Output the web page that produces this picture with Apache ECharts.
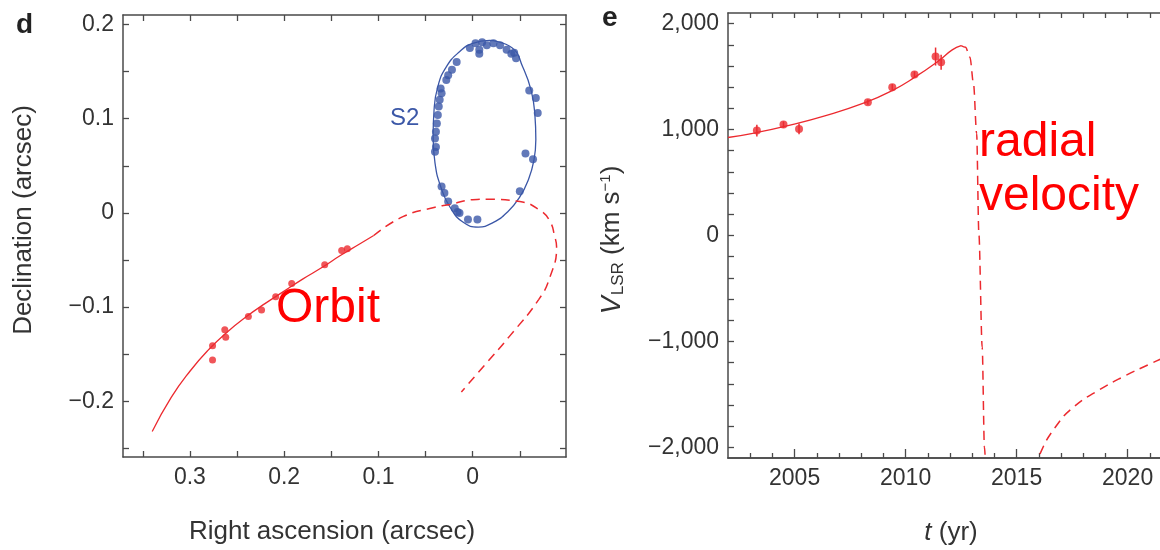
<!DOCTYPE html>
<html>
<head>
<meta charset="utf-8">
<script src="https://cdn.jsdelivr.net/npm/echarts@6/dist/echarts.min.js"></script>
<style>
  html, body { margin: 0; padding: 0; background: #fff; }
  #chart { width: 1160px; height: 550px; }
</style>
</head>
<body>
<div id="chart"></div>
<script>
// ---- panel d : orbit on the sky (arcsec) ----
var orbitFitRA  = [0.340, 0.320, 0.300, 0.280, 0.260, 0.240, 0.220, 0.200, 0.180, 0.160, 0.140, 0.120, 0.105];
var orbitFitDec = [-0.232, -0.196, -0.168, -0.145, -0.126, -0.110, -0.096, -0.083, -0.070, -0.058, -0.045, -0.033, -0.024];
var orbitPredRA  = [0.105, 0.074, 0.040, 0.024, 0.000, -0.015, -0.050, -0.071, -0.082, -0.087, -0.089, -0.082, -0.070, -0.039, -0.014, 0.012];
var orbitPredDec = [-0.024, -0.004, 0.006, 0.009, 0.014, 0.0145, 0.012, 0.003, -0.009, -0.025, -0.036, -0.068, -0.092, -0.131, -0.160, -0.190];
var g2ObsRA  = [0.276, 0.276, 0.263, 0.262, 0.238, 0.224, 0.209, 0.192, 0.157, 0.139, 0.133];
var g2ObsDec = [-0.156, -0.141, -0.124, -0.132, -0.110, -0.103, -0.089, -0.075, -0.055, -0.040, -0.038];

var s2OrbitRA  = [-0.018, -0.042, -0.053, -0.062, -0.066, -0.067, -0.065, -0.059, -0.050, -0.037, -0.022, -0.006, 0.010, 0.024, 0.034, 0.040, 0.042, 0.041, 0.037, 0.028, 0.014, 0.000, -0.018];
var s2OrbitDec = [0.183, 0.175, 0.155, 0.130, 0.104, 0.078, 0.056, 0.035, 0.017, 0.001, -0.010, -0.015, -0.010, 0.006, 0.028, 0.053, 0.081, 0.109, 0.134, 0.155, 0.171, 0.180, 0.183];
var s2ObsRA  = [0.003, -0.007, -0.015, -0.022, -0.029, -0.036, -0.041, -0.046, -0.007, 0.017, 0.026, 0.028, 0.033, 0.035, 0.036, 0.038, 0.039, 0.040, 0.039, 0.040,
                -0.060, -0.067, -0.069, -0.056, -0.064, -0.050, 0.033, 0.030, 0.026, 0.019, 0.016, 0.014, 0.005, -0.005,
                -0.010, -0.003, 0.034, 0.037, -0.044, 0.022];
var s2ObsDec = [0.175, 0.173, 0.178, 0.180, 0.178, 0.173, 0.169, 0.164, 0.169, 0.160, 0.146, 0.141, 0.127, 0.120, 0.113, 0.095, 0.086, 0.079, 0.070, 0.065,
                0.130, 0.122, 0.106, 0.063, 0.057, 0.023, 0.028, 0.021, 0.012, 0.005, 0.001, 0.000, -0.007, -0.007,
                0.181, 0.180, 0.132, 0.104, 0.170, 0.152];

var raTicks   = [-0.05, 0, 0.05, 0.1, 0.15, 0.2, 0.25, 0.3, 0.35];
var raLabels  = [0, 0.1, 0.2, 0.3];
var decTicks  = [-0.25, -0.2, -0.15, -0.1, -0.05, 0, 0.05, 0.1, 0.15, 0.2];
var decLabels = [-0.2, -0.1, 0, 0.1, 0.2];

// ---- panel e : radial velocity (km/s) ----
var velFitYear = [2002.0, 2003.3, 2004.6, 2006.4, 2008.2, 2009.4, 2010.4, 2011.5, 2012.1, 2012.5];
var velFitKms  = [925, 972, 1032, 1132, 1256, 1368, 1492, 1651, 1752, 1792];
var velPredYear1 = [2012.5, 2012.7, 2012.9, 2013.06, 2013.2, 2013.3, 2013.45, 2013.55, 2013.62];
var velPredKms1  = [1792, 1777, 1682, 1431, 962, 19, -1054, -1997, -2250];
var velPredYear2 = [2015.9, 2016.09, 2016.75, 2017.56, 2018.71, 2019.86, 2021.0, 2021.45, 2022.4];
var velPredKms2  = [-2200, -2044, -1808, -1620, -1459, -1327, -1213, -1170, -1085];
var obsYear = [2003.3, 2004.5, 2005.2, 2008.3, 2009.4, 2010.4, 2011.35, 2011.6];
var obsVel  = [990, 1047, 1006, 1258, 1399, 1519, 1689, 1635];
var obsErr  = [55, 30, 50, 25, 30, 30, 85, 70];

var yearMinorTicks = [2003, 2004, 2006, 2007, 2008, 2009, 2011, 2012, 2013, 2014, 2016, 2017, 2018, 2019, 2021, 2022];
var yearLabels = [2005, 2010, 2015, 2020];
var velTicks = [];
for (var v = -2000; v <= 2000; v += 200) velTicks.push(v);
var velLabels = [-2000, -1000, 0, 1000, 2000];

var FONT = 'Liberation Sans, Arial, Helvetica, sans-serif';
var RED = '#ec2a2f';
var BLUE = '#3b57a7';
var AXIS = '#4a4a4a';
var TXT = '#333333';

function zip(a, b) {
  return a.map(function (x, i) { return [x, b[i]]; });
}
function fmtArc(v) {
  var r = Math.round(v * 10) / 10;
  if (r === 0) return '0';
  return (r < 0 ? '\u2212' : '') + Math.abs(r).toFixed(1);
}
function fmtVel(v) {
  if (v === 0) return '0';
  var s = Math.abs(v).toString().replace(/\B(?=(\d{3})+(?!\d))/g, ',');
  return (v < 0 ? '\u2212' : '') + s;
}

// one axis of a framed box; ticks always point inward
function axis(grid, pos, min, max, ticks, tickLen, labels, fmt, extra) {
  var a = {
    type: 'value', gridIndex: grid, position: pos, min: min, max: max,
    axisLine: { show: true, onZero: false, lineStyle: { color: AXIS, width: 1.5 } },
    axisTick: { show: true, inside: true, length: tickLen, customValues: ticks, lineStyle: { color: AXIS, width: 1.3 } },
    axisLabel: labels ? { show: true, customValues: labels, formatter: fmt, color: TXT, fontSize: 23, fontFamily: FONT, margin: 9 }
                      : { show: false },
    splitLine: { show: false }
  };
  for (var k in extra) a[k] = extra[k];
  return a;
}

var chart = echarts.init(document.getElementById('chart'), null, { renderer: 'canvas' });

var option = {
  animation: false,
  backgroundColor: '#fff',
  grid: [
    { left: 123, top: 15, width: 443, height: 442, containLabel: false, outerBoundsMode: 'none' },
    { left: 728, top: 13, width: 452, height: 445, containLabel: false, outerBoundsMode: 'none' }
  ],
  xAxis: [
    axis(0, 'bottom', -0.099, 0.371, raTicks, 6, raLabels, fmtArc, { inverse: true }),
    axis(0, 'top', -0.099, 0.371, raTicks, 6, null, null, { inverse: true }),
    axis(1, 'bottom', 2002, 2022.36, yearLabels, 9, yearLabels, function (v) { return String(v); }),
    axis(1, 'bottom', 2002, 2022.36, yearMinorTicks, 5, null, null),
    axis(1, 'top', 2002, 2022.36, yearMinorTicks.concat(yearLabels), 5, null, null)
  ],
  yAxis: [
    axis(0, 'left', -0.259, 0.21, decTicks, 6, decLabels, fmtArc),
    axis(0, 'right', -0.259, 0.21, decTicks, 6, null, null),
    axis(1, 'left', -2100, 2100, velTicks, 6, velLabels, fmtVel, {})
  ],
  series: [
    {
      type: 'line', xAxisIndex: 0, yAxisIndex: 0, data: zip(s2OrbitRA, s2OrbitDec),
      smooth: true, showSymbol: false, lineStyle: { color: BLUE, width: 1.3 }, z: 2
    },
    {
      type: 'scatter', xAxisIndex: 0, yAxisIndex: 0, data: zip(s2ObsRA, s2ObsDec),
      symbolSize: 8, itemStyle: { color: BLUE }, z: 3
    },
    {
      type: 'line', xAxisIndex: 0, yAxisIndex: 0, data: zip(orbitFitRA, orbitFitDec),
      smooth: 0.5, showSymbol: false, lineStyle: { color: RED, width: 1.3 }, z: 4
    },
    {
      type: 'line', xAxisIndex: 0, yAxisIndex: 0, data: zip(orbitPredRA, orbitPredDec),
      smooth: 0.5, showSymbol: false, lineStyle: { color: RED, width: 1.5, type: [9, 6] }, z: 4
    },
    {
      type: 'scatter', xAxisIndex: 0, yAxisIndex: 0, data: zip(g2ObsRA, g2ObsDec),
      symbolSize: 7, itemStyle: { color: RED }, z: 5
    },
    {
      type: 'line', xAxisIndex: 2, yAxisIndex: 2, data: zip(velFitYear, velFitKms),
      smooth: 0.5, showSymbol: false, lineStyle: { color: RED, width: 1.3 }
    },
    {
      type: 'line', xAxisIndex: 2, yAxisIndex: 2, data: zip(velPredYear1, velPredKms1),
      smooth: 0.3, smoothMonotone: 'x', showSymbol: false, lineStyle: { color: RED, width: 1.5, type: [9, 6] }
    },
    {
      type: 'line', xAxisIndex: 2, yAxisIndex: 2, data: zip(velPredYear2, velPredKms2),
      smooth: 0.5, showSymbol: false, lineStyle: { color: RED, width: 1.5, type: [9, 6] }
    },
    {
      type: 'custom', xAxisIndex: 2, yAxisIndex: 2,
      data: obsYear.map(function (t, i) { return [t, obsVel[i] - obsErr[i], obsVel[i] + obsErr[i]]; }),
      encode: { x: 0, y: [1, 2] },
      renderItem: function (params, api) {
        var lo = api.coord([api.value(0), api.value(1)]);
        var hi = api.coord([api.value(0), api.value(2)]);
        return { type: 'line', shape: { x1: lo[0], y1: lo[1], x2: hi[0], y2: hi[1] },
                 style: { stroke: RED, lineWidth: 1.5 } };
      }
    },
    {
      type: 'scatter', xAxisIndex: 2, yAxisIndex: 2, data: zip(obsYear, obsVel),
      symbolSize: 8, itemStyle: { color: RED }
    }
  ],
  graphic: [
    { type: 'text', x: 16, y: 11, style: { text: 'd', font: 'bold 28px ' + FONT, fill: '#222' } },
    { type: 'text', x: 602, y: 4, style: { text: 'e', font: 'bold 28px ' + FONT, fill: '#222' } },
    { type: 'text', x: 24, y: 220, rotation: Math.PI / 2,
      style: { text: 'Declination (arcsec)', font: '26px ' + FONT, fill: TXT, align: 'center', verticalAlign: 'middle' } },
    { type: 'text', x: 332, y: 532,
      style: { text: 'Right ascension (arcsec)', font: '26px ' + FONT, fill: TXT, align: 'center', verticalAlign: 'middle' } },
    { type: 'text', x: 612, y: 240, rotation: Math.PI / 2,
      style: {
        text: '{v|V}{s|LSR}{n| (km s}{p|\u22121}{n|)}', align: 'center', verticalAlign: 'middle',
        fontFamily: FONT, fontSize: 26, fill: TXT,
        rich: {
          v: { fontFamily: FONT, fontSize: 27, fontStyle: 'italic', fill: TXT },
          s: { fontFamily: FONT, fontSize: 17, fill: TXT, padding: [12, 0, 0, 1] },
          n: { fontFamily: FONT, fontSize: 26, fill: TXT },
          p: { fontFamily: FONT, fontSize: 15, fill: TXT, padding: [0, 0, 12, 0] }
        }
      } },
    { type: 'text', x: 951, y: 533,
      style: {
        text: '{i|t}{n| (yr)}', align: 'center', verticalAlign: 'middle', fontFamily: FONT, fontSize: 26, fill: TXT,
        rich: {
          i: { fontFamily: FONT, fontSize: 26, fontStyle: 'italic', fill: TXT },
          n: { fontFamily: FONT, fontSize: 26, fill: TXT }
        }
      } },
    { type: 'text', x: 390, y: 106, style: { text: 'S2', font: '24px ' + FONT, fill: BLUE } },
    { type: 'text', x: 276, y: 309, style: { text: 'Orbit', font: '48px ' + FONT, fill: '#ff0000', verticalAlign: 'middle' } },
    { type: 'text', x: 979, y: 143, style: { text: 'radial', font: '48px ' + FONT, fill: '#ff0000', verticalAlign: 'middle' } },
    { type: 'text', x: 979, y: 197, style: { text: 'velocity', font: '48px ' + FONT, fill: '#ff0000', verticalAlign: 'middle' } }
  ]
};

chart.setOption(option);
</script>
</body>
</html>
